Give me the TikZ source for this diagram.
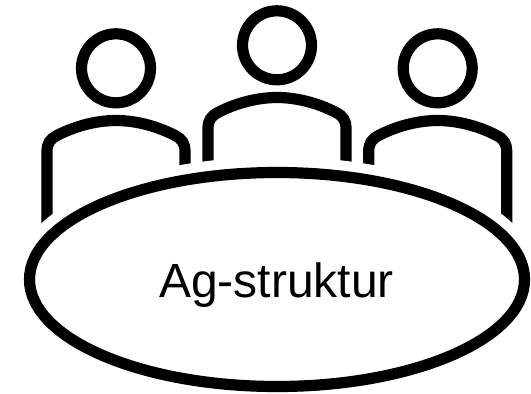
\documentclass[tikz,border=0pt]{standalone}
\usepackage{fontspec}
\setmainfont{Liberation Sans}
\usetikzlibrary{shapes.geometric}
\tikzset{
  headring/.style={circle,draw=black,line width=8.4pt,minimum size=51.75pt,inner sep=0pt},
  bodyline/.style={draw=black,line width=8.4pt},
  tablehalo/.style={draw=white,line width=23.5pt},
  tableshape/.style={ellipse,draw=black,fill=white,line width=8.4pt,minimum width=371.25pt,minimum height=160.5pt,inner sep=0pt}
}
\begin{document}
\begin{tikzpicture}[x=0.75pt,y=-0.75pt]
\useasboundingbox (0,0) rectangle (531,393);
\foreach \nm/\cx/\cy in {left/116/68.3,mid/277/45.3,right/437.7/68.3}{
  \node[headring] (head\nm) at (\cx,\cy) {};
  \begin{scope}[shift={(\cx,\cy+52.2)}]
    \draw[bodyline] (-69,120) -- (-69,31)
      .. controls (-69,23) and (-66,18.5) .. (-59,15)
      .. controls (-44,7) and (-22,0) .. (0,0)
      .. controls (22,0) and (44,7) .. (59,15)
      .. controls (66,18.5) and (69,23) .. (69,31) -- (69,120);
  \end{scope}
}
\draw[tablehalo] (277,279.5) ellipse [x radius=247.5,y radius=107];
\node[tableshape] (table) at (277,279.5) {};
\node[font=\fontsize{36pt}{40pt}\selectfont,anchor=base] (label) at (276.5,297) {Ag-struktur};
\end{tikzpicture}
\end{document}
